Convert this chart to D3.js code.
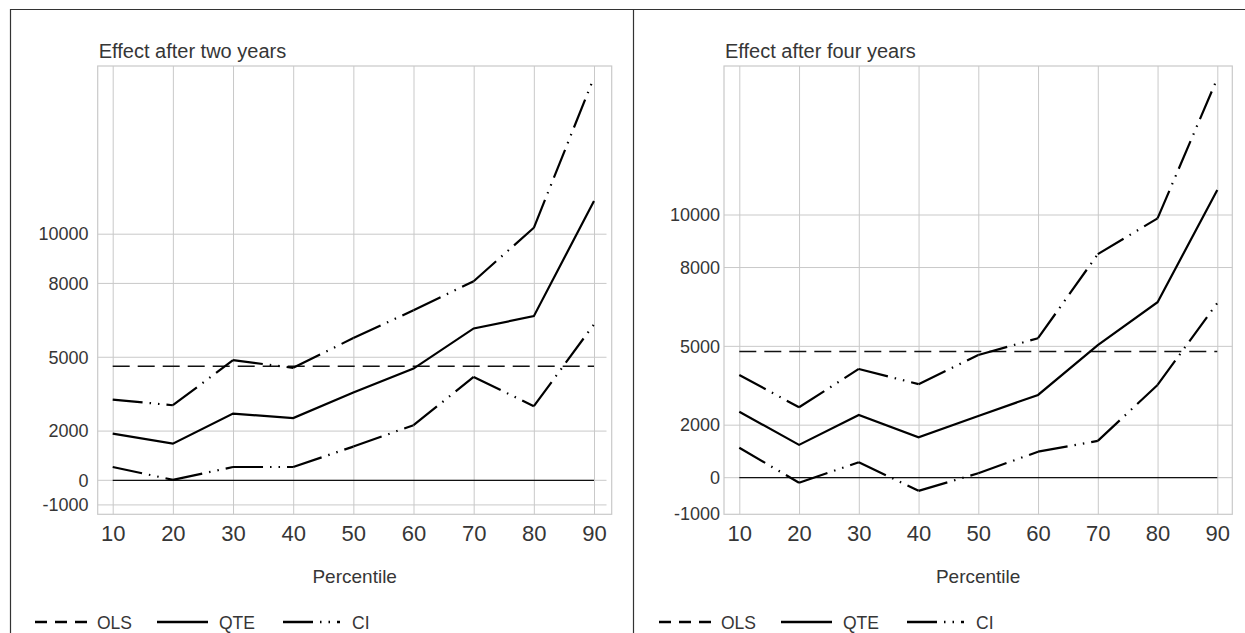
<!DOCTYPE html>
<html>
<head>
<meta charset="utf-8">
<script src="https://cdn.jsdelivr.net/npm/d3@7"></script>
<style>
  html, body { margin: 0; padding: 0; background: #fff; }
  svg { display: block; }
  text { font-family: "Liberation Sans", Arial, sans-serif; fill: #363636; }
</style>
</head>
<body>
<svg id="chart" width="1245" height="633"></svg>
<script>
// ---------- data ----------
const percentiles = [10, 20, 30, 40, 50, 60, 70, 80, 90];
const yTickValues = [-1000, 0, 2000, 5000, 8000, 10000];
const panelTitles = ["Effect after two years", "Effect after four years"];
const xAxisLabel = "Percentile";
const legendLabels = ["OLS", "QTE", "CI"];

const olsTwoYears = [4630];
const qteTwoYears = [1900, 1490, 2710, 2530, 3570, 4540, 6170, 6670, 11350];
const ciUpperTwoYears = [3280, 3050, 4880, 4570, 5780, 6910, 8090, 10260, 16370];
const ciLowerTwoYears = [540, 20, 540, 540, 1370, 2240, 4200, 3010, 6340];

const olsFourYears = [4800];
const qteFourYears = [2510, 1250, 2390, 1540, 2350, 3150, 5050, 6680, 10950];
const ciUpperFourYears = [3910, 2680, 4140, 3560, 4670, 5310, 8510, 9870, 15200];
const ciLowerFourYears = [1140, -190, 590, -500, 170, 990, 1400, 3530, 6650];

// ---------- layout ----------
const svg = d3.select("#chart");
const frameColor = "#333";
const gridColor = "#c9c9c9";
const textColor = "#363636";

const panels = [
  {
    title: panelTitles[0], ols: olsTwoYears[0], qte: qteTwoYears, up: ciUpperTwoYears, lo: ciLowerTwoYears,
    plot: { left: 97.7, right: 611.7, top: 66, bottom: 514.3 },
    xr: [112.7, 594], yr: [480.3, 234.2], gridEnd: 606.5,
    tickRight: 88.5, minTickAtBottom: false,
    legendX: 35
  },
  {
    title: panelTitles[1], ols: olsFourYears[0], qte: qteFourYears, up: ciUpperFourYears, lo: ciLowerFourYears,
    plot: { left: 724, right: 1232.3, top: 66, bottom: 514.3 },
    xr: [739.3, 1217.3], yr: [477.7, 215], gridEnd: 1232.3,
    tickRight: 720, minTickAtBottom: true,
    legendX: 659
  }
];

// frame
svg.append("line").attr("x1", 10).attr("x2", 1245).attr("y1", 9.5).attr("y2", 9.5)
  .attr("stroke", frameColor).attr("stroke-width", 1.2);
svg.append("line").attr("x1", 10.5).attr("x2", 10.5).attr("y1", 9).attr("y2", 633)
  .attr("stroke", frameColor).attr("stroke-width", 1.2);
svg.append("line").attr("x1", 633.5).attr("x2", 633.5).attr("y1", 9).attr("y2", 633)
  .attr("stroke", frameColor).attr("stroke-width", 1.2);

const ciDash = "30,7,1.5,7,1.5,7";

panels.forEach(p => {
  const g = svg.append("g");
  const x = d3.scaleLinear().domain([10, 90]).range(p.xr);
  const y = d3.scaleLinear().domain([0, 10000]).range(p.yr);
  const P = p.plot;

  // vertical grid via axis
  const xGrid = d3.axisBottom(x).tickValues(percentiles).tickSize(-(P.bottom - P.top)).tickFormat("");
  g.append("g").attr("transform", `translate(0,${P.bottom})`).call(xGrid)
    .call(s => s.select(".domain").remove())
    .call(s => s.selectAll("line").attr("stroke", gridColor).attr("stroke-width", 1));

  // horizontal grid
  const gridVals = p.minTickAtBottom ? yTickValues.filter(v => v !== d3.min(yTickValues)) : yTickValues;
  g.append("g").selectAll("line").data(gridVals).join("line")
    .attr("x1", P.left).attr("x2", p.gridEnd)
    .attr("y1", d => y(d)).attr("y2", d => y(d))
    .attr("stroke", gridColor).attr("stroke-width", 1);

  // plot border
  g.append("rect").attr("x", P.left).attr("y", P.top)
    .attr("width", P.right - P.left).attr("height", P.bottom - P.top)
    .attr("fill", "none").attr("stroke", gridColor).attr("stroke-width", 1.2);

  // y tick labels (plain hyphen minus as in the original)
  const yAxis = d3.axisLeft(y).tickValues(yTickValues).tickSize(0).tickPadding(0).tickFormat(d => String(d));
  const ya = g.append("g").attr("transform", `translate(${p.tickRight},0)`).call(yAxis);
  ya.select(".domain").remove();
  ya.selectAll("text").attr("font-size", 18).attr("fill", textColor)
    .style("font-family", "'Liberation Sans', Arial, sans-serif");
  if (p.minTickAtBottom) {
    ya.selectAll(".tick").filter(d => d === d3.min(yTickValues))
      .attr("transform", `translate(0,${P.bottom})`);
  }

  // x tick labels
  const xAxis = d3.axisBottom(x).tickValues(percentiles).tickSize(0).tickPadding(0);
  const xa = g.append("g").attr("transform", `translate(0,${P.bottom + 11})`).call(xAxis);
  xa.select(".domain").remove();
  xa.selectAll("text").attr("font-size", 22).attr("fill", textColor).attr("dy", "0.71em")
    .style("font-family", "'Liberation Sans', Arial, sans-serif");

  // title
  g.append("text").attr("x", P.left + 1).attr("y", 58).attr("font-size", 20).text(p.title);

  // x label
  g.append("text").attr("x", (P.left + P.right) / 2).attr("y", 583)
    .attr("text-anchor", "middle").attr("font-size", 19).text(xAxisLabel);

  // zero line
  g.append("line").attr("x1", x(10)).attr("x2", x(90)).attr("y1", y(0)).attr("y2", y(0))
    .attr("stroke", "#111").attr("stroke-width", 1.3);

  // OLS
  g.append("line").attr("x1", x(10)).attr("x2", x(90)).attr("y1", y(p.ols)).attr("y2", y(p.ols))
    .attr("stroke", "#111").attr("stroke-width", 1.5).attr("stroke-dasharray", "17,8");

  // QTE
  const line = d3.line().x((d, i) => x(percentiles[i])).y(d => y(d));
  g.append("path").attr("d", line(p.qte)).attr("fill", "none")
    .attr("stroke", "#000").attr("stroke-width", 2.2).attr("stroke-linejoin", "miter");

  // CI bands: each segment drawn separately, pattern restarting at each vertex
  const segLine = d3.line().x(q => x(q[0])).y(q => y(q[1]));
  [p.up, p.lo].forEach(series => {
    const segs = d3.pairs(series.map((v, i) => [percentiles[i], v]));
    g.append("g").selectAll("path").data(segs).join("path")
      .attr("d", d => segLine(d))
      .attr("fill", "none").attr("stroke", "#000").attr("stroke-width", 2.2)
      .attr("stroke-dasharray", ciDash);
  });

  // legend
  const ly = 622;
  const L = p.legendX;
  const lg = g.append("g");
  lg.append("line").attr("x1", L).attr("x2", L + 53).attr("y1", ly).attr("y2", ly)
    .attr("stroke", "#000").attr("stroke-width", 2.6).attr("stroke-dasharray", "12,8");
  lg.append("text").attr("x", L + 62).attr("y", ly + 6.5).attr("font-size", 17.5).text(legendLabels[0]);
  lg.append("line").attr("x1", L + 122).attr("x2", L + 173).attr("y1", ly).attr("y2", ly)
    .attr("stroke", "#000").attr("stroke-width", 2.6);
  lg.append("text").attr("x", L + 184).attr("y", ly + 6.5).attr("font-size", 17.5).text(legendLabels[1]);
  lg.append("line").attr("x1", L + 248).attr("x2", L + 305).attr("y1", ly).attr("y2", ly)
    .attr("stroke", "#000").attr("stroke-width", 2.6).attr("stroke-dasharray", "30,7,1.5,7,1.5,7");
  lg.append("text").attr("x", L + 317).attr("y", ly + 6.5).attr("font-size", 17.5).text(legendLabels[2]);
});
</script>
</body>
</html>
